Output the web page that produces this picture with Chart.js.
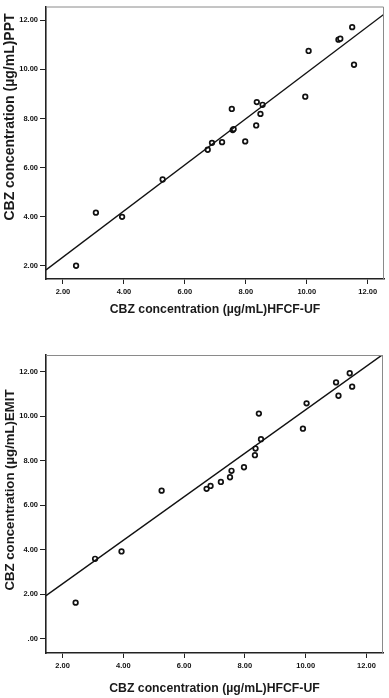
<!DOCTYPE html>
<html>
<head>
<meta charset="utf-8">
<script src="https://cdn.jsdelivr.net/npm/chart.js@4.4.1/dist/chart.umd.min.js"></script>
<style>
  html, body { margin: 0; padding: 0; background: #fff; }
  body { width: 389px; height: 698px; position: relative; overflow: hidden; }
  canvas { position: absolute; left: 0; }
  #pptChart { top: 0; }
  #emitChart { top: 330px; }
</style>
</head>
<body>
<canvas id="pptChart" width="389" height="330"></canvas>
<canvas id="emitChart" width="389" height="368"></canvas>
<script>
// --- data ---
// HFCF-UF (x) vs PPT (y)
const pptX = [2.43, 3.08, 3.94, 5.27, 6.75, 6.89, 7.22, 7.54, 7.57, 7.60, 7.98, 8.34, 8.36, 8.48, 8.55, 9.95, 10.06, 11.04, 11.10, 11.49, 11.55];
const pptY = [2.01, 4.17, 4.00, 5.52, 6.73, 7.01, 7.04, 8.39, 7.53, 7.57, 7.07, 7.72, 8.67, 8.19, 8.56, 8.89, 10.75, 11.21, 11.25, 11.72, 10.19];
const pptFit = [0.49, 0.938];   // intercept, slope

// HFCF-UF (x) vs EMIT (y)
const emitX = [2.43, 3.07, 3.94, 5.26, 6.74, 6.87, 7.21, 7.51, 7.56, 7.97, 8.33, 8.35, 8.46, 8.53, 9.91, 10.03, 11.00, 11.08, 11.45, 11.53];
const emitY = [1.63, 3.60, 3.93, 6.66, 6.74, 6.87, 7.05, 7.26, 7.55, 7.71, 8.25, 8.55, 10.12, 8.97, 9.44, 10.58, 11.52, 10.92, 11.93, 11.33];
const emitFit = [0.523, 0.977];

const xTicks = [2, 4, 6, 8, 10, 12];
const pptYTicks = [2, 4, 6, 8, 10, 12];
const emitYTicks = [0, 2, 4, 6, 8, 10, 12];

const xTitle = 'CBZ concentration (\u00b5g/mL)HFCF-UF';
const pptTitle = 'CBZ concentration (\u00b5g/mL)PPT';
const emitTitle = 'CBZ concentration (\u00b5g/mL)EMIT';

// SPSS style: ".00" for zero, "2.00" etc
function fmt(v) {
    const s = Number(v).toFixed(2);
    return s.startsWith('0.') ? s.slice(1) : s;
}

const tickFont = { family: "'Liberation Sans', Arial, sans-serif", size: 7.5, weight: 'bold' };
const titleFont = { family: "'Liberation Sans', Arial, sans-serif", size: 12.25, weight: 'bold' };

// top + right edges of the plot box, plus the rotated y title
const framePlugin = {
    id: 'frame',
    afterDraw(chart, args, opts) {
        const { ctx, chartArea: a } = chart;
        ctx.save();
        ctx.strokeStyle = '#8a8a8a';
        ctx.lineWidth = 1;
        ctx.beginPath();
        ctx.moveTo(a.left, a.top + 0.5);
        ctx.lineTo(a.right - 0.5, a.top + 0.5);
        ctx.lineTo(a.right - 0.5, a.bottom);
        ctx.stroke();

        ctx.translate(opts.x, opts.y);
        ctx.rotate(-Math.PI / 2);
        ctx.fillStyle = '#1a1a1a';
        ctx.font = `bold ${opts.size}px 'Liberation Sans', Arial, sans-serif`;
        ctx.textAlign = 'center';
        ctx.textBaseline = 'middle';
        ctx.fillText(opts.text, 0, 0);
        ctx.restore();
    }
};

function makeChart(id, xs, ys, fit, yTicks, cfg) {
    const points = xs.map((x, i) => ({ x: x, y: ys[i] }));
    const fitLine = [cfg.xMin, cfg.xMax].map(x => ({ x: x, y: fit[0] + fit[1] * x }));

    return new Chart(document.getElementById(id), {
        type: 'scatter',
        data: {
            datasets: [
                {
                    type: 'line', data: fitLine, borderColor: '#111', borderWidth: 1.4,
                    pointRadius: 0, fill: false, tension: 0
                },
                {
                    data: points, pointRadius: 2.3, pointBorderWidth: 1.7,
                    pointBorderColor: '#111', pointBackgroundColor: '#fff', pointHoverRadius: 2.3
                }
            ]
        },
        options: {
            responsive: false, animation: false,
            layout: { padding: { left: 0, top: cfg.top, right: cfg.right, bottom: 0 } },
            plugins: {
                legend: { display: false }, tooltip: { enabled: false },
                frame: { text: cfg.yTitle, x: cfg.yTitleX, y: cfg.yTitleY, size: cfg.yTitleSize }
            },
            scales: {
                x: {
                    type: 'linear', min: cfg.xMin, max: cfg.xMax,
                    afterBuildTicks: s => { s.ticks = xTicks.map(v => ({ value: v })); },
                    afterFit: s => { s.height = cfg.xHeight; },
                    ticks: { callback: fmt, font: tickFont, color: '#111', padding: 3, maxRotation: 0 },
                    grid: { drawOnChartArea: false, drawTicks: true, tickLength: 5, color: '#222' },
                    border: { display: true, color: '#222', width: 1.6 },
                    title: { display: true, text: xTitle, font: titleFont, color: '#1a1a1a', padding: { top: 0, bottom: cfg.xTitlePad } }
                },
                y: {
                    type: 'linear', min: cfg.yMin, max: cfg.yMax,
                    afterBuildTicks: s => { s.ticks = yTicks.map(v => ({ value: v })); },
                    afterFit: s => { s.width = 46; },
                    ticks: { callback: fmt, font: tickFont, color: '#111', padding: 2 },
                    grid: { drawOnChartArea: false, drawTicks: true, tickLength: 6, color: '#222' },
                    border: { display: true, color: '#222', width: 1.6 }
                }
            }
        },
        plugins: [framePlugin]
    });
}

makeChart('pptChart', pptX, pptY, pptFit, pptYTicks, {
    xMin: 1.443, xMax: 12.534, yMin: 1.47, yMax: 12.56,
    top: 3, right: 5, xHeight: 51, xTitlePad: 13,
    yTitle: pptTitle, yTitleX: 10, yTitleY: 117, yTitleSize: 14
});

makeChart('emitChart', emitX, emitY, emitFit, emitYTicks, {
    xMin: 1.455, xMax: 12.545, yMin: -0.63, yMax: 12.75,
    top: 25, right: 6, xHeight: 45, xTitlePad: 2,
    yTitle: emitTitle, yTitleX: 10, yTitleY: 160, yTitleSize: 13.2
});
</script>
</body>
</html>
